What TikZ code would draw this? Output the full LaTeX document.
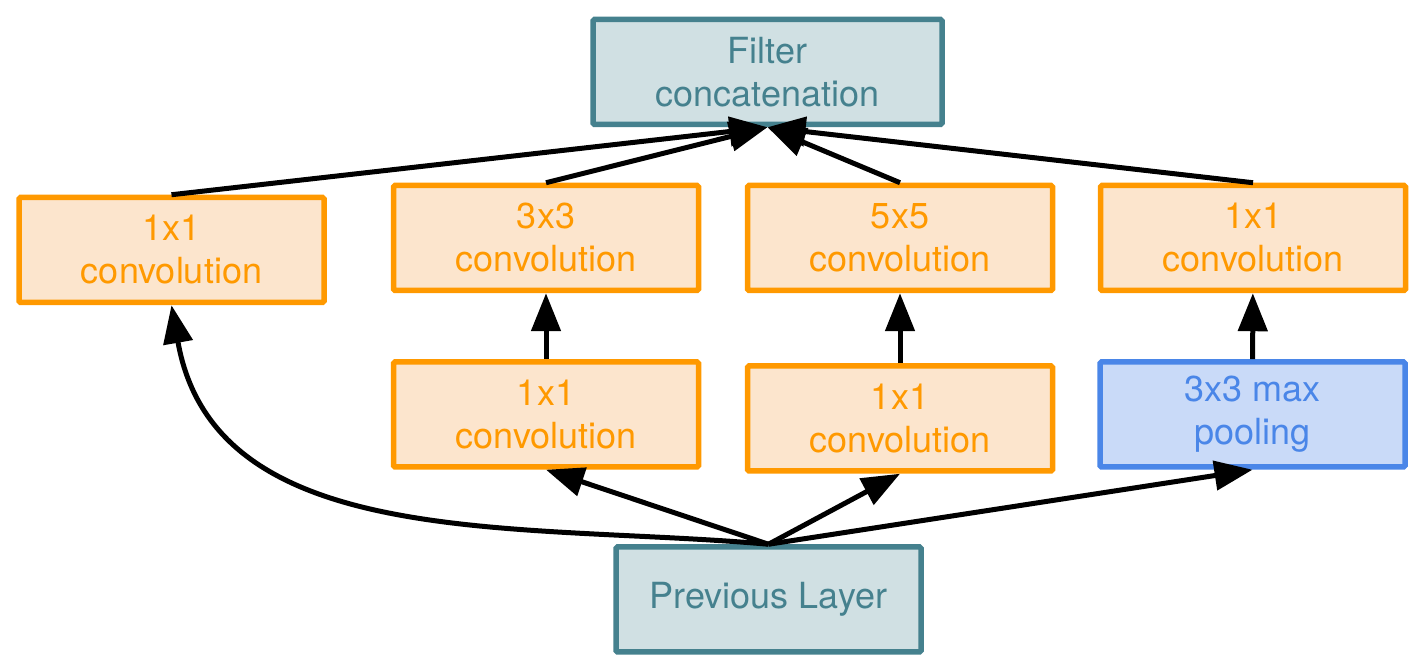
\documentclass[tikz,border=0pt]{standalone}
\usepackage{fontspec}
\setmainfont{TeX Gyre Heros}
\usetikzlibrary{arrows.meta}
\definecolor{layerline}{HTML}{45818E}
\definecolor{layerfill}{HTML}{D0E0E3}
\definecolor{convline}{HTML}{FF9900}
\definecolor{convfill}{HTML}{FCE5CD}
\definecolor{poolline}{HTML}{4A86E8}
\definecolor{poolfill}{HTML}{C9DAF8}

\begin{document}
\begin{tikzpicture}[x=0.5pt,y=0.5pt,
  box/.style={draw,line width=2.75pt,rounded corners=0.75pt,minimum width=152.5pt,minimum height=52.5pt,inner sep=0pt,align=center,font=\fontsize{18pt}{21.5pt}\selectfont},
  layerbox/.style={box,draw=layerline,fill=layerfill,text=layerline},
  convbox/.style={box,draw=convline,fill=convfill,text=convline},
  poolbox/.style={box,draw=poolline,fill=poolfill,text=poolline},
  flow/.style={line width=2.5pt,-{Triangle[length=19pt,width=14.5pt]}}]
\useasboundingbox (0,0) rectangle (1423,672);
\node[layerbox,minimum width=174.5pt] (concat) at (767.5,600) {Filter\\concatenation};
\node[convbox] (conv1a) at (171.5,422) {1x1\\convolution};
\node[convbox] (conv3) at (546,434) {3x3\\convolution};
\node[convbox] (conv5) at (900,434) {5x5\\convolution};
\node[convbox] (conv1b) at (1253,434) {1x1\\convolution};
\node[convbox] (red3) at (546,257.5) {1x1\\convolution};
\node[convbox] (red5) at (900,253.5) {1x1\\convolution};
\node[poolbox] (pool) at (1252.5,257.5) {3x3 max\\pooling};
\node[layerbox] (prev) at (768.5,72.5) {Previous Layer};
\draw[flow] (prev.north) to[out=175,in=-80] (conv1a.south);
\draw[flow] (prev.north) -- (red3.south);
\draw[flow] (prev.north) -- (red5.south);
\draw[flow] (prev.north) -- (pool.south);
\draw[flow] (red3) -- (conv3);
\draw[flow] (red5) -- (conv5);
\draw[flow] (pool) -- (conv1b);
\draw[flow] (conv1a.north) -- (concat.south);
\draw[flow] (conv3.north) -- (concat.south);
\draw[flow] (conv5.north) -- (concat.south);
\draw[flow] (conv1b.north) -- (concat.south);
\end{tikzpicture}
\end{document}
